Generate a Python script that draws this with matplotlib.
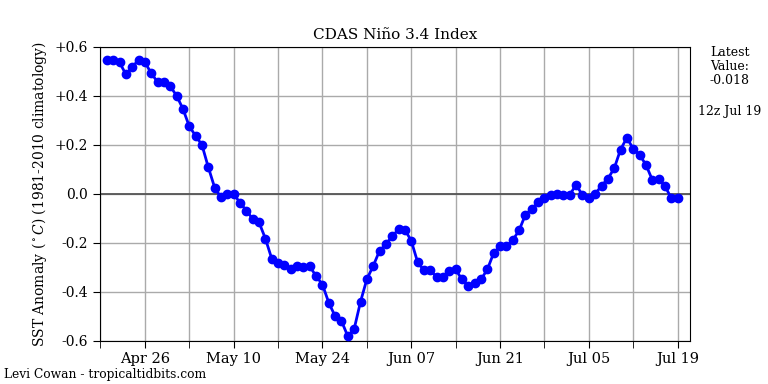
from datetime import datetime, timedelta

import matplotlib
matplotlib.use("Agg")
import matplotlib.pyplot as plt

plt.rcParams["font.family"] = "DejaVu Serif"
plt.rcParams["mathtext.fontset"] = "dejavuserif"

# daily index values, 20 Apr .. 19 Jul
start_day = datetime(2020, 4, 20)
nino34 = [
    0.547, 0.545, 0.537, 0.488, 0.517, 0.547, 0.538, 0.492, 0.457, 0.457, 0.439,
    0.401, 0.347, 0.276, 0.237, 0.200, 0.109, 0.026, -0.014, 0.000, 0.000,
    -0.036, -0.068, -0.102, -0.116, -0.182, -0.264, -0.283, -0.291, -0.307, -0.294,
    -0.299, -0.296, -0.335, -0.370, -0.444, -0.499, -0.518, -0.581, -0.551, -0.440,
    -0.348,
    -0.294, -0.232, -0.206, -0.172, -0.145, -0.146, -0.191, -0.278, -0.312, -0.312,
    -0.339, -0.339, -0.316, -0.308, -0.349, -0.376, -0.365, -0.349, -0.308, -0.241,
    -0.214, -0.214, -0.189, -0.149, -0.085, -0.061, -0.035, -0.016, -0.004, 0.001,
    -0.003, -0.003, 0.037, -0.005, -0.016, 0.000, 0.033, 0.062, 0.104, 0.181,
    0.229, 0.184, 0.160, 0.119, 0.058, 0.060, 0.033, -0.018, -0.018,
]
days = [start_day + timedelta(days=i) for i in range(len(nino34))]
y_ticks = [-0.6, -0.4, -0.2, 0.0, 0.2, 0.4, 0.6]
y_labels = ["-0.6", "-0.4", "-0.2", "0.0", "+0.2", "+0.4", "+0.6"]

fig = plt.figure(figsize=(7.68, 3.84), dpi=100)
ax = fig.add_axes([0.130, 0.112, 0.768, 0.766])

ax.axhline(0, color="#555555", lw=1.3, zorder=2)
ax.plot(days, nino34, color="blue", lw=2, marker="o", ms=6, zorder=3)

ax.set_xlim(days[0] - timedelta(days=1.1), days[-1] + timedelta(days=1.9))
ax.set_ylim(-0.6, 0.6)
ax.set_yticks(y_ticks)
ax.set_yticklabels(y_labels)

ticks = [datetime(2020, 4, 26) + timedelta(days=14 * k) for k in range(7)]
minor = [datetime(2020, 4, 19) + timedelta(days=7 * k) for k in range(14)]
ax.set_xticks(ticks)
ax.set_xticklabels([d.strftime("%b %d") for d in ticks])
ax.set_xticks(minor, minor=True)
ax.tick_params(axis="both", which="both", direction="out", length=5, labelsize=10)
ax.tick_params(axis="x", labelsize=10.5, pad=3)
ax.grid(True, which="both", color="#aaaaaa", lw=1)
ax.set_axisbelow(True)

ax.set_title("CDAS Niño 3.4 Index", fontsize=11)
ax.set_ylabel(r"SST Anomaly ($^\circ C$) (1981-2010 climatology)", fontsize=10)

fig.text(0.950, 0.880, "Latest\nValue:\n%.3f" % nino34[-1], ha="center", va="top",
         fontsize=9, linespacing=1.1)
fig.text(0.950, 0.710, "12z Jul 19", ha="center", va="center", fontsize=9)
fig.text(0.005, 0.008, "Levi Cowan - tropicaltidbits.com", ha="left", va="bottom",
         fontsize=8.8)

fig.savefig("out.png", dpi=100)
plt.close(fig)
